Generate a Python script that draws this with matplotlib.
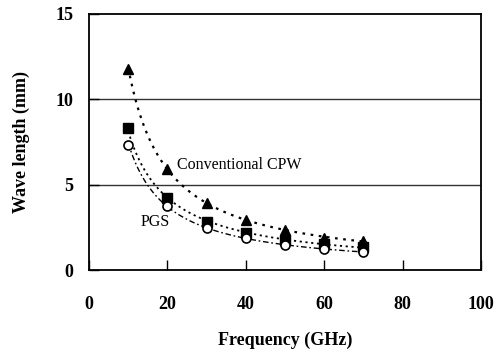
import numpy as np
import matplotlib
matplotlib.use("Agg")
import matplotlib.pyplot as plt

plt.rcParams['font.family'] = ['Liberation Serif', 'DejaVu Serif']

# data
freq = [10, 20, 30, 40, 50, 60, 70]
cpw = [11.8, 5.9, 3.95, 2.95, 2.37, 1.9, 1.68]
pgs_sq = [8.3, 4.2, 2.84, 2.17, 1.78, 1.5, 1.35]
pgs_circ = [7.3, 3.77, 2.48, 1.9, 1.49, 1.22, 1.03]

x_ticks = [0, 20, 40, 60, 80, 100]
y_ticks = [0, 5, 10, 15]


def power_trend(x, y):
    # Excel-style power trendline, fitted in log space
    b, log_a = np.polyfit(np.log(x), np.log(y), 1)
    xs = np.linspace(min(x), max(x), 200)
    return xs, np.exp(log_a) * xs ** b


fig = plt.figure(figsize=(4.98, 3.58), dpi=100)
ax = fig.add_axes([0.1787, 0.2458, 0.7872, 0.7151])

for y_grid in [5, 10]:
    ax.axhline(y_grid, color='#333333', lw=1.0, zorder=0)

xs, ys = power_trend(freq, cpw)
ax.plot(xs, ys, color='black', ls=(0, (1.2, 2.5)), lw=1.6)
xs, ys = power_trend(freq, pgs_sq)
ax.plot(xs, ys, color='black', ls=(0, (1.2, 2.0)), lw=1.3)
xs, ys = power_trend(freq, pgs_circ)
ax.plot(xs, ys, color='black', ls=(0, (4, 2, 1.2, 2)), lw=1.0)

ax.plot(freq, cpw, ls='none', marker='^', ms=7, color='black')
ax.plot(freq, pgs_sq, ls='none', marker='s', ms=6.5, color='black')
ax.plot(freq, pgs_circ, ls='none', marker='o', ms=6.5, mfc='white',
        mec='black', mew=1.2)

ax.text(22.4, 6.17, 'Conventional CPW', fontsize=11.5, va='center', ha='left')
ax.text(13.2, 2.84, 'PGS', fontsize=11.5, va='center', ha='left')

ax.set_xlim(0, 100)
ax.set_ylim(0, 15)
ax.set_xticks(x_ticks)
ax.set_yticks(y_ticks)
ax.tick_params(direction='in', length=7, width=1.0, labelsize=13)
ax.tick_params(axis='x', pad=19)
ax.tick_params(axis='y', pad=11.5)
for lab in ax.get_xticklabels() + ax.get_yticklabels():
    lab.set_fontweight('bold')
for sp in ax.spines.values():
    sp.set_linewidth(1.3)

ax.set_xlabel('Frequency (GHz)', fontsize=13, fontweight='bold', labelpad=13)
ax.set_ylabel('Wave length (mm)', fontsize=13, fontweight='bold', labelpad=18)

fig.savefig('out.png', dpi=100)
